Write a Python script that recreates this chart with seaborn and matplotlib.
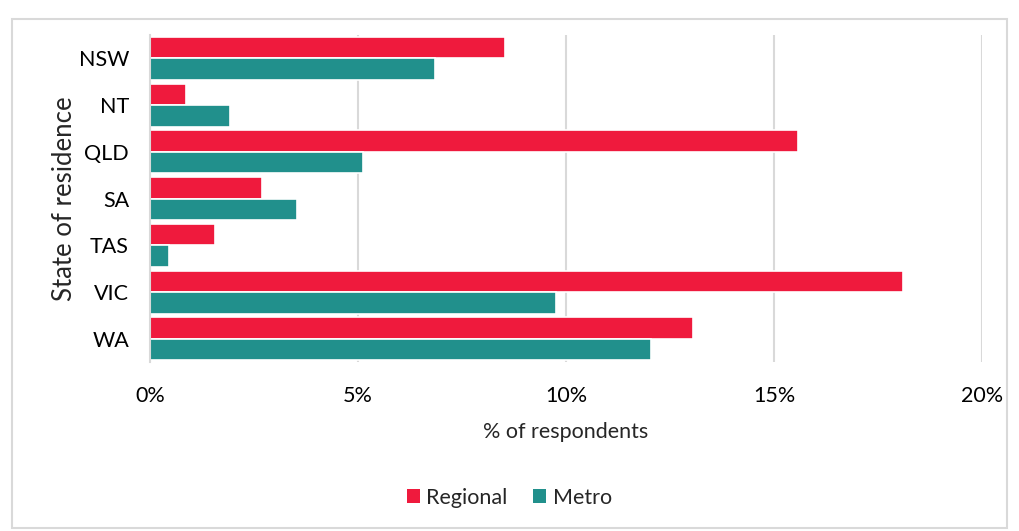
import matplotlib
matplotlib.use("Agg")
import matplotlib.pyplot as plt
import seaborn as sns
import pandas as pd
from matplotlib.patches import Rectangle
from matplotlib.ticker import FuncFormatter

states = ["NSW", "NT", "QLD", "SA", "TAS", "VIC", "WA"]
regional = [8.53, 0.86, 15.58, 2.70, 1.57, 18.10, 13.04]
metro = [6.85, 1.93, 5.13, 3.53, 0.46, 9.77, 12.05]
series = ["Regional", "Metro"]
colors = ["#EF1A3D", "#21908C"]

df = pd.DataFrame({
    "state": states * 2,
    "value": regional + metro,
    "series": [series[0]] * len(states) + [series[1]] * len(states),
})

sns.set_style("white")
plt.rcParams["font.family"] = ["Lato", "DejaVu Sans"]

fig = plt.figure(figsize=(10.19, 5.31), dpi=100)
ax = fig.add_axes([0.147, 0.318, 0.817, 0.616])

sns.barplot(data=df, y="state", x="value", hue="series", orient="h",
            palette=colors, saturation=1, width=0.92, edgecolor="white", linewidth=1.2,
            order=states, hue_order=series, ax=ax, legend=True)

ax.set_xlim(0, 20)
ax.set_xticks([0, 5, 10, 15, 20])
ax.xaxis.set_major_formatter(FuncFormatter(lambda v, p: f"{int(v)}%"))
ax.grid(axis="x", color="#D9D9D9", linewidth=1.5)
ax.set_axisbelow(True)
for s in ["top", "right", "bottom"]:
    ax.spines[s].set_visible(False)
ax.spines["left"].set_color("#D9D9D9")
ax.spines["left"].set_linewidth(1.5)
ax.tick_params(axis="both", length=0, labelsize=15.5, colors="#000000")
ax.tick_params(axis="x", pad=17)
ax.tick_params(axis="y", pad=15)
ax.set_xlabel("% of respondents", fontsize=15.5, labelpad=12)
ax.set_ylabel("State of residence", fontsize=18.5)
ax.yaxis.set_label_coords(-0.087, 0.5)
ax.set_ylim(6.5, -0.5)

leg = ax.legend(loc="center", bbox_to_anchor=(0.5, 0.063), bbox_transform=fig.transFigure,
                ncol=2, frameon=False, fontsize=15.5, handlelength=0.6, handleheight=0.6,
                handletextpad=0.3, columnspacing=1.2)
for h in leg.legend_handles:
    h.set_edgecolor("none")

fig.patches.append(Rectangle((0.012, 0.006), 0.976, 0.958, transform=fig.transFigure,
                             fill=False, edgecolor="#D9D9D9", linewidth=1.5))

fig.savefig("out.png", dpi=100)
